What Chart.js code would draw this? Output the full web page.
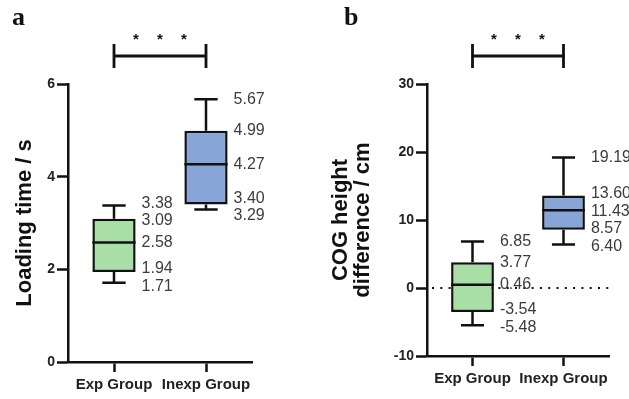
<!DOCTYPE html>
<html>
<head>
<meta charset="utf-8">
<script src="https://cdn.jsdelivr.net/npm/chart.js@4.4.1/dist/chart.umd.min.js"></script>
<style>
  html, body { margin: 0; padding: 0; background: #fff; }
  #wrap { position: relative; width: 629px; height: 399px; overflow: hidden; }
  canvas { position: absolute; top: 0; }
  #chartA { left: 0; }
  #chartB { left: 314px; }
</style>
</head>
<body>
<div id="wrap">
  <canvas id="chartA" width="314" height="399"></canvas>
  <canvas id="chartB" width="315" height="399"></canvas>
</div>
<script>
/* ---------- DATA ---------- */

const groups = ["Exp Group", "Inexp Group"];
const boxColors = ["#a9dea6", "#87a6d7"];

// panel a: loading time (s)
const loadMin = [1.71, 3.29];
const loadQ1 = [1.94, 3.40];
const loadMedian = [2.58, 4.27];
const loadQ3 = [3.09, 4.99];
const loadMax = [3.38, 5.67];

// panel b: COG height difference (cm)
const cogMin = [-5.48, 6.40];
const cogQ1 = [-3.54, 8.57];
const cogMedian = [0.46, 11.43];
const cogQ3 = [3.77, 13.60];
const cogMax = [6.85, 19.19];

const significance = "* * *";

/* ---------- PLUGINS ---------- */

const INK = "#111";

// whiskers, median line and the five value labels for each box
const boxExtras = {
  id: "boxExtras",
  afterDatasetsDraw(chart, args, opts) {
    const { ctx } = chart;
    const y = chart.scales.y;
    const meta = chart.getDatasetMeta(0);
    ctx.save();
    meta.data.forEach((bar, i) => {
      const cx = bar.x;
      const half = bar.width / 2;
      const cap = bar.width * 0.27;
      const pMin = y.getPixelForValue(opts.min[i]);
      const pQ1 = y.getPixelForValue(opts.q1[i]);
      const pMed = y.getPixelForValue(opts.median[i]);
      const pQ3 = y.getPixelForValue(opts.q3[i]);
      const pMax = y.getPixelForValue(opts.max[i]);

      ctx.strokeStyle = INK;
      ctx.lineWidth = 2.5;
      ctx.beginPath();
      ctx.moveTo(cx, pQ3); ctx.lineTo(cx, pMax);
      ctx.moveTo(cx - cap, pMax); ctx.lineTo(cx + cap, pMax);
      ctx.moveTo(cx, pQ1); ctx.lineTo(cx, pMin);
      ctx.moveTo(cx - cap, pMin); ctx.lineTo(cx + cap, pMin);
      ctx.moveTo(cx - half, pMed); ctx.lineTo(cx + half, pMed);
      ctx.stroke();

      // labels, pushed apart where they would overlap
      const vals = [opts.max[i], opts.q3[i], opts.median[i], opts.q1[i], opts.min[i]];
      const pos = [pMax, pQ3, pMed, pQ1, pMin];
      const gap = 17.5;
      for (let k = 0; k < 20; k++) {
        for (let j = 1; j < pos.length; j++) {
          const d = pos[j] - pos[j - 1];
          if (d < gap) {
            const s = (gap - d) / 2;
            pos[j - 1] -= s;
            pos[j] += s;
          }
        }
      }
      ctx.font = "16px Arial, 'Liberation Sans', sans-serif";
      ctx.fillStyle = "#3c3c3c";
      ctx.textAlign = "left";
      ctx.textBaseline = "middle";
      vals.forEach((v, j) => ctx.fillText(v.toFixed(2), cx + half + 6, pos[j]));
    });
    ctx.restore();
  }
};

// bracket with stars above the two groups, and the panel letter
const panelDecor = {
  id: "panelDecor",
  afterDraw(chart, args, opts) {
    const { ctx } = chart;
    const x = chart.scales.x;
    const x0 = x.getPixelForValue(0);
    const x1 = x.getPixelForValue(1);
    const yb = 56;
    ctx.save();
    ctx.strokeStyle = INK;
    ctx.lineWidth = 2.8;
    ctx.beginPath();
    ctx.moveTo(x0, yb); ctx.lineTo(x1, yb);
    ctx.moveTo(x0, yb - 12); ctx.lineTo(x0, yb + 12);
    ctx.moveTo(x1, yb - 12); ctx.lineTo(x1, yb + 12);
    ctx.stroke();

    ctx.fillStyle = INK;
    ctx.font = "bold 15px Arial, 'Liberation Sans', sans-serif";
    ctx.textAlign = "center";
    ctx.textBaseline = "alphabetic";
    const stars = opts.stars.split(" ");
    const mid = (x0 + x1) / 2;
    stars.forEach((s, k) => ctx.fillText(s, mid + (k - 1) * 24, 44));

    ctx.font = "bold 26px 'Liberation Serif', 'DejaVu Serif', serif";
    ctx.textAlign = "left";
    ctx.fillText(opts.letter, opts.letterX, 25);
    ctx.restore();
  }
};

// dotted reference line at zero (under the boxes)
const zeroLine = {
  id: "zeroLine",
  beforeDatasetsDraw(chart, args, opts) {
    if (!opts.show) return;
    const { ctx, chartArea } = chart;
    const py = chart.scales.y.getPixelForValue(0);
    ctx.save();
    ctx.strokeStyle = INK;
    ctx.lineWidth = 2.2;
    ctx.setLineDash([2, 6.3]);
    ctx.lineDashOffset = -5;
    ctx.beginPath();
    ctx.moveTo(chartArea.left, py);
    ctx.lineTo(chartArea.right, py);
    ctx.stroke();
    ctx.restore();
  }
};

/* ---------- CHART ---------- */

function makeChart(el, cfg) {
  return new Chart(el, {
    type: "bar",
    data: {
      labels: groups,
      datasets: [{
        data: groups.map((g, i) => [cfg.q1[i], cfg.q3[i]]),
        backgroundColor: boxColors,
        borderColor: INK,
        borderWidth: 2.5,
        borderSkipped: false,
        barPercentage: 0.47,
        categoryPercentage: 1
      }]
    },
    options: {
      responsive: false,
      devicePixelRatio: 1,
      animation: false,
      events: [],
      layout: { padding: { left: 0, top: 84, right: cfg.padRight, bottom: 0 } },
      plugins: {
        legend: { display: false },
        tooltip: { enabled: false },
        boxExtras: cfg,
        panelDecor: { stars: significance, letter: cfg.letter, letterX: cfg.letterX },
        zeroLine: { show: cfg.zero }
      },
      scales: {
        x: {
          afterFit: s => { s.height = cfg.xHeight; },
          grid: {
            offset: false, drawOnChartArea: false, drawTicks: true,
            tickLength: 10, tickWidth: 2.5, tickColor: INK
          },
          border: { display: true, color: INK, width: 2.5 },
          ticks: {
            color: "#222", padding: 4, maxRotation: 0, autoSkip: false,
            font: { family: "Arial, 'Liberation Sans', sans-serif", size: 15, weight: "bold" }
          }
        },
        y: {
          min: cfg.yMin, max: cfg.yMax,
          afterFit: s => { s.width = cfg.yWidth; },
          ticks: {
            stepSize: cfg.step, color: "#222", padding: 2,
            font: { family: "Arial, 'Liberation Sans', sans-serif", size: 14, weight: "bold" }
          },
          grid: {
            drawOnChartArea: false, drawTicks: true,
            tickLength: 11, tickWidth: 2.5, tickColor: INK
          },
          border: { display: true, color: INK, width: 2.5 },
          title: {
            display: true, text: cfg.title, color: INK,
            padding: { top: cfg.titlePad, bottom: 0 },
            font: { family: "Arial, 'Liberation Sans', sans-serif", size: 22, weight: "bold", lineHeight: 1 }
          }
        }
      }
    },
    plugins: [zeroLine, boxExtras, panelDecor]
  });
}

makeChart(document.getElementById("chartA"), {
  min: loadMin, q1: loadQ1, median: loadMedian, q3: loadQ3, max: loadMax,
  yMin: 0, yMax: 6, step: 2,
  title: "Loading time / s", titlePad: 14,
  yWidth: 68, xHeight: 37, padRight: 62,
  letter: "a", letterX: 12, zero: false
});

makeChart(document.getElementById("chartB"), {
  min: cogMin, q1: cogQ1, median: cogMedian, q3: cogQ3, max: cogMax,
  yMin: -10, yMax: 30, step: 10,
  title: ["COG height", "difference / cm"], titlePad: 16,
  yWidth: 113, xHeight: 43, padRight: 20,
  letter: "b", letterX: 30, zero: true
});
</script>
</body>
</html>
